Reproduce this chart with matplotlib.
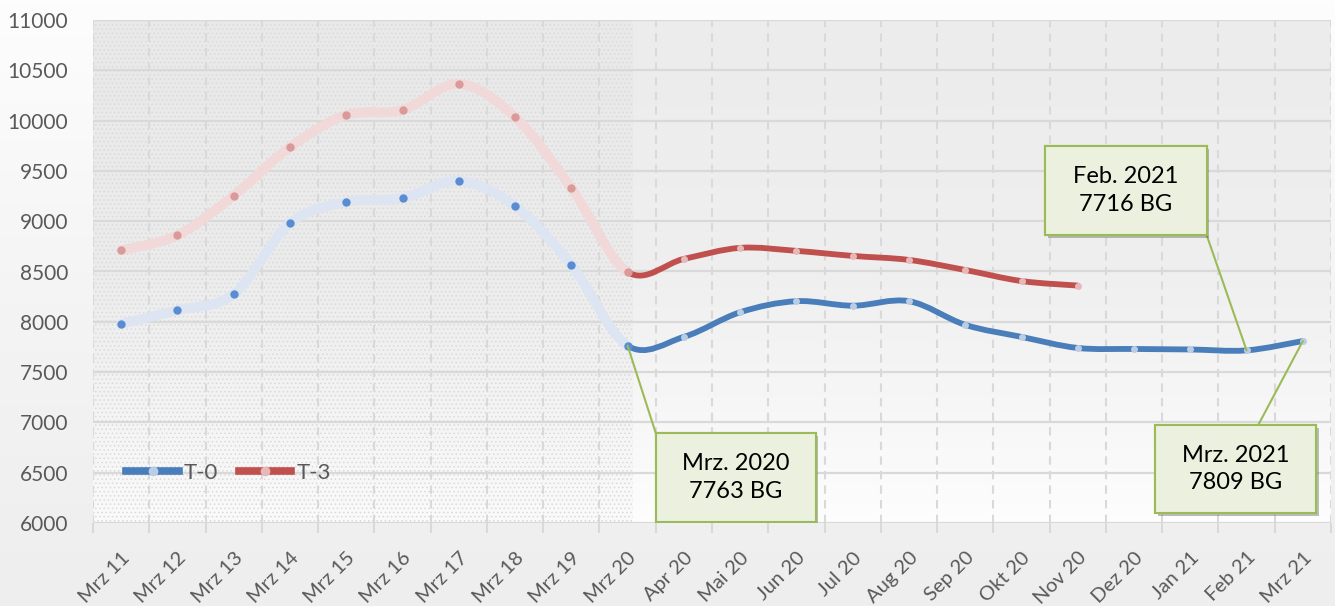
import numpy as np
import matplotlib.pyplot as plt
from matplotlib.path import Path
from matplotlib.patches import PathPatch, Rectangle
from matplotlib.lines import Line2D
from matplotlib.colors import LinearSegmentedColormap
from matplotlib.transforms import ScaledTranslation
import matplotlib.patheffects as pe

plt.rcParams['font.family'] = ['Lato', 'DejaVu Sans']

months = ["Mrz 11", "Mrz 12", "Mrz 13", "Mrz 14", "Mrz 15", "Mrz 16", "Mrz 17",
          "Mrz 18", "Mrz 19", "Mrz 20", "Apr 20", "Mai 20", "Jun 20", "Jul 20",
          "Aug 20", "Sep 20", "Okt 20", "Nov 20", "Dez 20", "Jan 21", "Feb 21", "Mrz 21"]
t0 = [7980, 8115, 8275, 8980, 9190, 9230, 9400, 9150, 8565, 7763,
      7850, 8095, 8205, 8160, 8205, 7970, 7850, 7740, 7730, 7725, 7716, 7809]
t3 = [8710, 8860, 9255, 9735, 10055, 10105, 10365, 10035, 9330, 8495,
      8625, 8735, 8705, 8655, 8615, 8515, 8405, 8360]
split = 9  # index of "Mrz 20": yearly values before, monthly after

# callouts: text, index of the point, box (left, bottom, width, height) in data units,
# anchor of the leader line on the box (fraction of width, fraction of height)
callouts = [
    ("Mrz. 2020\n7763 BG", 9, (9.50, 6010, 2.84, 885), (0.0, 1.0)),
    ("Feb. 2021\n7716 BG", 20, (16.42, 8863, 2.87, 885), (1.0, 0.0)),
    ("Mrz. 2021\n7809 BG", 21, (18.37, 6099, 2.87, 875), (0.64, 1.0)),
]


def smooth_path(y, start, stop):
    # Excel-like smoothed line (Catmull-Rom as cubic Bezier) between points start..stop
    pts = np.column_stack([np.arange(len(y)), y]).astype(float)
    n = len(pts)
    verts = [pts[start]]
    codes = [Path.MOVETO]
    for i in range(start, stop):
        p0 = pts[max(i - 1, 0)]
        p1 = pts[i]
        p2 = pts[i + 1]
        p3 = pts[min(i + 2, n - 1)]
        verts += [p1 + (p2 - p0) / 6, p2 - (p3 - p1) / 6, p2]
        codes += [Path.CURVE4] * 3
    return Path(verts, codes)


fig = plt.figure(figsize=(13.35, 6.06), dpi=100)
bg = fig.add_axes([0, 0, 1, 1], zorder=-10)
bg.imshow(np.linspace(0, 1, 100).reshape(-1, 1), aspect='auto', extent=[0, 1, 0, 1],
          cmap=LinearSegmentedColormap.from_list('bg', ['#eeeeee', '#f4f4f4', '#fdfdfd']),
          origin='lower')
bg.axis('off')

ax = fig.add_axes([93 / 1335, 83 / 606, 1238 / 1335, 503 / 606])
ax.set_facecolor('none')
ax.imshow(np.linspace(0, 1, 100).reshape(-1, 1), aspect='auto',
          extent=[-0.5, len(months) - 0.5, 6000, 11000], origin='lower', zorder=0,
          cmap=LinearSegmentedColormap.from_list('pa', ['#fdfdfd', '#efefef', '#ececec']))
plt.rcParams['hatch.linewidth'] = 0.6
ax.add_patch(Rectangle((-0.5, 6000), split + 0.6, 5000, facecolor=(0, 0, 0, 0.012),
                       edgecolor='#dadada', hatch='....', lw=0, zorder=0.5))

ax.set_xlim(-0.5, len(months) - 0.5)
ax.set_ylim(6000, 11000)
ax.set_yticks(np.arange(6000, 11001, 500))
ax.set_xticks(range(len(months)))
ax.set_xticklabels(months, rotation=45, ha='right', rotation_mode='anchor', va='center')
ax.set_xticks(np.arange(-0.5, len(months)), minor=True)
ax.tick_params(axis='x', which='major', length=0, pad=23, labelsize=14.5, labelcolor='#595959')
ax.tick_params(axis='x', which='minor', length=7, color='#d9d9d9', width=1.5)
ax.tick_params(axis='y', length=0, pad=18, labelsize=15, labelcolor='#595959')
shift = ScaledTranslation(6 / 100, 0, fig.dpi_scale_trans)
for lab in ax.get_xticklabels():
    lab.set_transform(lab.get_transform() + shift)
for s in ax.spines.values():
    s.set_visible(False)
for v in np.arange(6000, 11001, 500):
    ax.axhline(v, color='#d9d9d9', lw=1.6, zorder=1)
for b in np.arange(-0.5, len(months)):
    ax.axvline(b, color='#d9d9d9', lw=1.5, ls=(0, (4, 3)), zorder=1)

series = [(t0, '#4a7ebb', '#dce5f1', '#5a8cd2', '#b9cde5'),
          (t3, '#c0504d', '#f2d9d9', '#da9a99', '#e6b9b8')]
for y, col, faded, mfaded, mlight in series:
    x = np.arange(len(y))
    ax.add_patch(PathPatch(smooth_path(y, 0, split), fill=False, ec=faded, lw=7,
                           capstyle='round', zorder=3))
    ax.add_patch(PathPatch(smooth_path(y, split, len(y) - 1), fill=False, ec=col, lw=4.2,
                           capstyle='round', joinstyle='round', zorder=4))
    ax.plot(x[:split + 1], y[:split + 1], 'o', ms=6, color=mfaded, mec='none', zorder=5)
    ax.plot(x[split + 1:], y[split + 1:], 'o', ms=5, color=mlight, mec='none', zorder=5)

handles = [Line2D([], [], color=c, lw=5.5, marker='o', ms=7, mfc=m, mec='none')
           for _, c, _, _, m in series]
ax.legend(handles, ['T-0', 'T-3'], loc='center left', bbox_to_anchor=(0.027, 0.10), ncol=2,
          frameon=False, fontsize=16, handlelength=2.35, columnspacing=0.95, handletextpad=0.22,
          borderpad=0, borderaxespad=0, labelcolor='#595959')

for text, idx, (bx, by, bw, bh), (fx, fy) in callouts:
    box = Rectangle((bx, by), bw, bh, facecolor='#ebf1de', edgecolor='#9bbb59', lw=1.5, zorder=7)
    box.set_path_effects([pe.withSimplePatchShadow(offset=(2, -2), alpha=0.35), pe.Normal()])
    ax.add_patch(box)
    ax.text(bx + bw / 2, by + bh / 2, text, ha='center', va='center', fontsize=17,
            linespacing=1.4, color='black', zorder=8)
    ax.annotate('', xy=(idx, t0[idx]), xytext=(bx + fx * bw, by + fy * bh),
                arrowprops=dict(arrowstyle='-', color='#9bbb59', lw=1.5, shrinkA=0, shrinkB=0),
                zorder=6)

fig.savefig('out.png', dpi=100)
